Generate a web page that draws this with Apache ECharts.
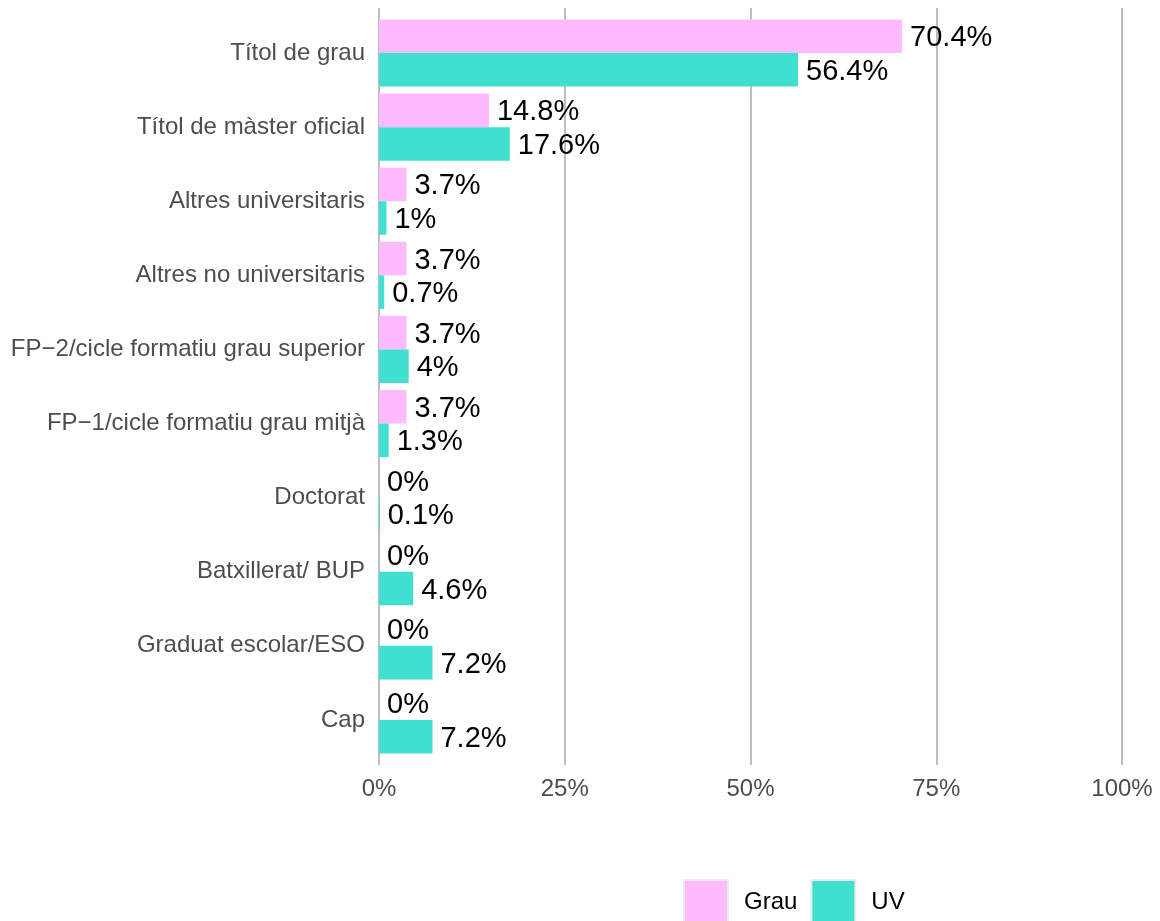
<!DOCTYPE html>
<html>
<head>
<meta charset="utf-8">
<script src="https://cdn.jsdelivr.net/npm/echarts@6/dist/echarts.min.js"></script>
<style>
html,body{margin:0;padding:0;background:#fff;}
#chart{width:1160px;height:921px;}
</style>
</head>
<body>
<div id="chart"></div>
<script>
const categories = [
  "Títol de grau",
  "Títol de màster oficial",
  "Altres universitaris",
  "Altres no universitaris",
  "FP\u22122/cicle formatiu grau superior",
  "FP\u22121/cicle formatiu grau mitjà",
  "Doctorat",
  "Batxillerat/ BUP",
  "Graduat escolar/ESO",
  "Cap"
];
const grauValues = [70.4, 14.8, 3.7, 3.7, 3.7, 3.7, 0, 0, 0, 0];
const uvValues = [56.4, 17.6, 1, 0.7, 4, 1.3, 0.1, 4.6, 7.2, 7.2];
const xTicks = [0, 25, 50, 75, 100];
const seriesNames = ["Grau", "UV"];

const FONT = "'Liberation Sans', Arial, sans-serif";
const chart = echarts.init(document.getElementById('chart'), null, {renderer: 'canvas'});

const labelCfg = {
  show: true,
  position: 'right',
  distance: 8,
  offset: [0, 2],
  fontSize: 29,
  fontFamily: FONT,
  color: '#000',
  formatter: p => p.value + '%'
};

chart.setOption({
  animation: false,
  backgroundColor: '#fff',
  grid: [
    {left: 379, right: 38, top: 8, bottom: 156},
    {left: 379, right: 38, top: 16, bottom: 164}
  ],
  xAxis: [
    {
      gridIndex: 0, type: 'value', min: xTicks[0], max: xTicks[xTicks.length - 1], interval: 25,
      axisLine: {show: false}, axisTick: {show: false},
      splitLine: {show: true, lineStyle: {color: '#bebebe', width: 2}},
      axisLabel: {fontSize: 24, fontFamily: FONT, color: '#4d4d4d', margin: 12, formatter: v => v + '%'}
    },
    {
      gridIndex: 1, type: 'value', min: 0, max: 100, show: false,
      splitLine: {show: false}
    }
  ],
  yAxis: [
    {gridIndex: 0, type: 'category', data: categories, show: false},
    {
      gridIndex: 1, type: 'category', data: categories, inverse: true,
      axisLine: {show: false}, axisTick: {show: false},
      axisLabel: {fontSize: 24, fontFamily: FONT, color: '#4d4d4d', margin: 14}
    }
  ],
  legend: {
    data: seriesNames,
    left: 683, top: 879,
    padding: 0,
    orient: 'horizontal',
    icon: 'rect',
    itemWidth: 44, itemHeight: 44,
    itemGap: 13,
    itemStyle: {borderColor: '#ebebeb', borderWidth: 2},
    textStyle: {fontSize: 24, fontFamily: FONT, color: '#000', padding: [0, 0, 0, 11]}
  },
  series: [
    {
      name: seriesNames[0], type: 'bar', xAxisIndex: 1, yAxisIndex: 1,
      data: grauValues, barGap: '0%', barCategoryGap: '9.5%',
      itemStyle: {color: '#FFBBFF'}, label: labelCfg
    },
    {
      name: seriesNames[1], type: 'bar', xAxisIndex: 1, yAxisIndex: 1,
      data: uvValues, barGap: '0%', barCategoryGap: '9.5%',
      itemStyle: {color: '#40E0D0'}, label: labelCfg
    }
  ]
});
</script>
</body>
</html>
